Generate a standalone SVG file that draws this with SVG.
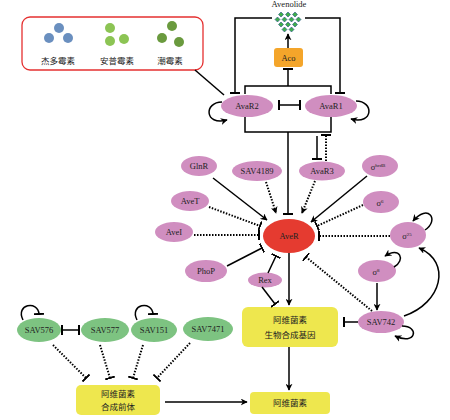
<svg xmlns="http://www.w3.org/2000/svg" width="450" height="420" viewBox="0 0 450 420">
<defs>
<marker id="arr" viewBox="0 0 10 10" refX="9" refY="5" markerWidth="7" markerHeight="7" markerUnits="userSpaceOnUse" orient="auto"><path d="M0,0 L10,5 L0,10 L3,5 z" fill="#000"/></marker>
<marker id="tee" viewBox="0 -5 2 10" refX="1" refY="0" markerWidth="2" markerHeight="10" markerUnits="userSpaceOnUse" orient="auto"><path d="M1,-5 V5" stroke="#000" stroke-width="2"/></marker>
<symbol id="dia" viewBox="-2.5 -2.5 5 5" overflow="visible"><path d="M0,-2.5 L2.5,0 L0,2.5 L-2.5,0 z" fill="#3fae49" stroke="#2b4f8f" stroke-width="0.6"/></symbol>
</defs>
<style>
.pk{fill:#d08ec0}
.gr{fill:#7dc381}
.yl{fill:#eee74e}
.t{font-family:"Liberation Serif",serif;font-size:8.5px;fill:#222;text-anchor:middle}
.c{font-family:"Liberation Serif","Noto Sans CJK SC",serif;font-size:8.5px;fill:#222;text-anchor:middle}
.s{fill:none;stroke:#000;stroke-width:1.5}
.d{fill:none;stroke:#000;stroke-width:2;stroke-dasharray:1.5 1.5}
</style>
<rect width="450" height="420" fill="#fff"/>

<g id="antibiotics">
<rect x="22" y="17" width="181" height="53" rx="8" fill="#fff" stroke="#e53030" stroke-width="1.3"/>
<circle cx="59" cy="28" r="5" fill="#6a8fbf"/><circle cx="49" cy="38" r="5" fill="#6a8fbf"/><circle cx="68" cy="38" r="5" fill="#6a8fbf"/>
<circle cx="110" cy="28" r="5" fill="#8cc454"/><circle cx="110" cy="41" r="5" fill="#8cc454"/><circle cx="124" cy="39" r="5" fill="#8cc454"/>
<circle cx="172" cy="26" r="5" fill="#6a9a3e"/><circle cx="162" cy="38" r="5" fill="#6a9a3e"/><circle cx="179" cy="42" r="5" fill="#6a9a3e"/>
<text class="c" x="58" y="64">杰多霉素</text>
<text class="c" x="117" y="64">安普霉素</text>
<text class="c" x="170" y="64">潮霉素</text>
</g>

<g id="avenolide">
<text class="t" x="289" y="7">Avenolide</text>
<use href="#dia" x="278.5" y="12" width="5" height="5"/><use href="#dia" x="285.5" y="12" width="5" height="5"/><use href="#dia" x="292.5" y="12" width="5" height="5"/>
<use href="#dia" x="275" y="17" width="5" height="5"/><use href="#dia" x="282" y="17" width="5" height="5"/><use href="#dia" x="289" y="17" width="5" height="5"/><use href="#dia" x="296" y="17" width="5" height="5"/>
<use href="#dia" x="278.5" y="22" width="5" height="5"/><use href="#dia" x="285.5" y="22" width="5" height="5"/><use href="#dia" x="292.5" y="22" width="5" height="5"/>
<use href="#dia" x="282" y="27" width="5" height="5"/><use href="#dia" x="289" y="27" width="5" height="5"/>
</g>

<g id="aco"><rect x="274" y="48" width="29" height="19" rx="3" fill="#f4a52a"/><text class="t" x="288.5" y="61">Aco</text></g>
<g id="avar2"><ellipse class="pk" cx="247" cy="106" rx="26" ry="11"/><text class="t" x="247" y="109">AvaR2</text></g>
<g id="avar1"><ellipse class="pk" cx="331" cy="106" rx="26" ry="11"/><text class="t" x="331" y="109">AvaR1</text></g>
<g id="avar3"><ellipse class="pk" cx="322" cy="171" rx="23" ry="9.5"/><text class="t" x="322" y="174">AvaR3</text></g>
<g id="glnr"><ellipse class="pk" cx="199" cy="166" rx="18" ry="10"/><text class="t" x="199" y="169">GlnR</text></g>
<g id="sav4189"><ellipse class="pk" cx="257" cy="171" rx="25" ry="10"/><text class="t" x="257" y="174">SAV4189</text></g>
<g id="avet"><ellipse class="pk" cx="190" cy="201" rx="19" ry="10"/><text class="t" x="190" y="204">AveT</text></g>
<g id="avei"><ellipse class="pk" cx="174" cy="232" rx="19" ry="10"/><text class="t" x="174" y="235">AveI</text></g>
<g id="phop"><ellipse class="pk" cx="206" cy="271" rx="21" ry="11"/><text class="t" x="206" y="274">PhoP</text></g>
<g id="rex"><ellipse class="pk" cx="265" cy="280" rx="17" ry="7.5"/><text class="t" x="265" y="283">Rex</text></g>
<g id="sighrdb"><ellipse class="pk" cx="380" cy="166" rx="18" ry="11"/><text class="t" x="378" y="170">σ<tspan font-size="5" dy="-3">hrdB</tspan></text></g>
<g id="sig6"><ellipse class="pk" cx="381" cy="202" rx="18" ry="11"/><text class="t" x="380" y="206">σ<tspan font-size="5" dy="-3">6</tspan></text></g>
<g id="sig25"><ellipse class="pk" cx="408" cy="235" rx="18" ry="13"/><text class="t" x="407" y="239">σ<tspan font-size="5" dy="-3">25</tspan></text></g>
<g id="sig8"><ellipse class="pk" cx="377" cy="271" rx="19" ry="11"/><text class="t" x="376" y="275">σ<tspan font-size="5" dy="-3">8</tspan></text></g>
<g id="sav742"><ellipse class="pk" cx="381" cy="322" rx="23" ry="11"/><text class="t" x="381" y="325">SAV742</text></g>
<g id="aver"><ellipse cx="289" cy="236" rx="26" ry="17" fill="#e53b30"/><text class="t" x="289" y="239">AveR</text></g>

<g id="genes"><rect class="yl" x="242" y="307" width="96" height="40" rx="6"/><text class="c" x="290" y="323">阿维菌素</text><text class="c" x="290" y="338">生物合成基因</text></g>
<g id="avermectin"><rect class="yl" x="250" y="392" width="80" height="22" rx="4"/><text class="c" x="290" y="406">阿维菌素</text></g>
<g id="precursor"><rect class="yl" x="76" y="385" width="84" height="30" rx="5"/><text class="c" x="118" y="397">阿维菌素</text><text class="c" x="118" y="410">合成前体</text></g>

<g id="sav576"><ellipse class="gr" cx="39" cy="330" rx="22" ry="12"/><text class="t" x="39" y="333">SAV576</text></g>
<g id="sav577"><ellipse class="gr" cx="105" cy="330" rx="24" ry="12"/><text class="t" x="105" y="333">SAV577</text></g>
<g id="sav151"><ellipse class="gr" cx="154" cy="330" rx="23" ry="12"/><text class="t" x="154" y="333">SAV151</text></g>
<g id="sav7471"><ellipse class="gr" cx="208" cy="329" rx="25" ry="12"/><text class="t" x="208" y="332">SAV7471</text></g>

<g id="connectors">
<path class="s" d="M195 70 L224 95"/>
<path class="s" d="M272 18 H235 V93" marker-end="url(#tee)"/>
<path class="s" d="M305 18 H340 V93" marker-end="url(#tee)"/>
<path class="s" d="M245 94 V86 H331 V94"/>
<path class="s" d="M288 86 V69" marker-end="url(#tee)"/>
<path class="s" d="M288 48 V34" marker-end="url(#arr)"/>
<path class="s" d="M279 105 H300" marker-start="url(#tee)" marker-end="url(#tee)"/>
<path class="s" d="M222 102 C204 102,204 126,227 120" marker-end="url(#arr)"/>
<path class="s" d="M356 101 C374 101,374 125,351 119" marker-end="url(#arr)"/>
<path class="s" d="M245 117 V132 H331 V117"/>
<path class="s" d="M288 132 V214" marker-end="url(#tee)"/>
<path class="s" d="M317 136 V159" marker-end="url(#tee)"/>
<path class="d" d="M326 161 V135" marker-end="url(#tee)"/>

<path class="s" d="M213 178 L267 220" marker-end="url(#arr)"/>
<path class="d" d="M266 182 L276 213" marker-end="url(#arr)"/>
<path class="d" d="M209 207 L260 226" marker-end="url(#tee)"/>
<path class="d" d="M194 235 L259 235" marker-end="url(#tee)"/>
<path class="s" d="M227 266 L262 248" marker-end="url(#tee)"/>
<path class="s" d="M268 273 L276 256" marker-end="url(#tee)"/>
<path class="d" d="M315 181 L302 213" marker-end="url(#arr)"/>
<path class="s" d="M367 176 L311 222" marker-end="url(#arr)"/>
<path class="d" d="M363 205 L317 226" marker-end="url(#tee)"/>
<path class="d" d="M390 236 L319 236" marker-end="url(#tee)"/>
<path class="d" d="M372 311 L306 257" marker-end="url(#tee)"/>

<path class="s" d="M289 253 V305" marker-end="url(#arr)"/>
<path class="s" d="M262 287 L275 304" marker-end="url(#tee)"/>
<path class="s" d="M358 322 H344" marker-end="url(#tee)"/>
<path class="s" d="M377 283 V310" marker-end="url(#arr)"/>
<path class="s" d="M404 316 C442 303,452 262,419 248" marker-end="url(#arr)"/>
<path class="s" d="M425 230 C440 220,428 203,413 221" marker-end="url(#arr)"/>
<path class="s" d="M394 267 C406 260,400 246,385 256" marker-end="url(#arr)"/>
<path class="s" d="M402 326 C420 326,416 346,395 336" marker-end="url(#arr)"/>
<path class="s" d="M289 347 V390" marker-end="url(#arr)"/>
<path class="s" d="M165 402 H247" marker-end="url(#arr)"/>

<path class="s" d="M62 330 H79" marker-start="url(#tee)" marker-end="url(#tee)"/>
<path class="s" d="M23 320 C15 304,38 300,39 314" marker-end="url(#tee)"/>
<path class="s" d="M137 320 C129 304,152 300,153 314" marker-end="url(#tee)"/>
<path class="d" d="M53 345 L86 378" marker-end="url(#tee)"/>
<path class="d" d="M100 345 L110 378" marker-end="url(#tee)"/>
<path class="d" d="M143 345 L133 378" marker-end="url(#tee)"/>
<path class="d" d="M190 343 L157 378" marker-end="url(#tee)"/>
</g>
</svg>
